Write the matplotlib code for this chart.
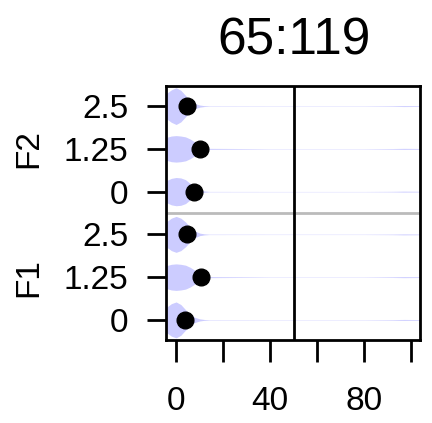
import numpy as np
import matplotlib
matplotlib.use("Agg")
from matplotlib import pyplot as plt
from matplotlib.transforms import blended_transform_factory

plt.rcParams['font.family'] = ['Liberation Sans', 'DejaVu Sans']

title = "65:119"
groups = ["F1", "F2"]
levels = ["0", "1.25", "2.5"]

# point estimates per row, bottom to top: F1 0, F1 1.25, F1 2.5, F2 0, F2 1.25, F2 2.5
points = [3.8, 10.5, 4.7, 7.5, 10.0, 4.7]

# violin outline (half width in row units)
dens_x = [-6, -4, -2, 0, 2, 4, 6, 8, 10, 12, 14, 40, 80, 92, 97, 102, 106]
dens_w = [
    [0.20, 0.30, 0.38, 0.42, 0.36, 0.24, 0.13, 0.06, 0.025, 0.010, 0.005, 0.004, 0.004, 0.007, 0.011, 0.009, 0.006],
    [0.22, 0.27, 0.30, 0.31, 0.30, 0.28, 0.23, 0.16, 0.09, 0.035, 0.012, 0.004, 0.004, 0.008, 0.012, 0.010, 0.006],
    [0.20, 0.30, 0.38, 0.42, 0.38, 0.29, 0.17, 0.08, 0.03, 0.012, 0.005, 0.004, 0.004, 0.007, 0.011, 0.009, 0.006],
    [0.20, 0.26, 0.31, 0.33, 0.32, 0.28, 0.19, 0.11, 0.045, 0.015, 0.005, 0.004, 0.004, 0.007, 0.011, 0.009, 0.006],
    [0.22, 0.27, 0.30, 0.31, 0.30, 0.28, 0.23, 0.16, 0.09, 0.035, 0.012, 0.004, 0.004, 0.008, 0.012, 0.010, 0.006],
    [0.20, 0.30, 0.38, 0.43, 0.37, 0.25, 0.13, 0.06, 0.025, 0.010, 0.005, 0.004, 0.004, 0.007, 0.011, 0.009, 0.006],
]
ref_line = 50

fig = plt.figure(figsize=(4.32, 4.23), dpi=100)
ax = fig.add_axes([166/432, 1 - 340/423, 254/432, 254/423])

rows = np.arange(len(points))
for r, w in zip(rows, dens_w):
    w = np.array(w)
    ax.fill_between(dens_x, r - w, r + w, color="#ccccff", lw=0, zorder=1)

ax.axhline(2.5, color="#bbbbbb", lw=2, zorder=2)
ax.axvline(ref_line, color="black", lw=2, zorder=3)
ax.plot(points, rows, "o", color="black", ms=12, zorder=4, clip_on=False)

ax.set_xlim(-4.3, 103.8)
ax.set_ylim(-0.47, 5.47)

ax.set_xticks([0, 20, 40, 60, 80, 100])
ax.set_xticklabels(["0", "", "40", "", "80", ""])
ax.set_yticks(rows)
ax.set_yticklabels(levels * 2)

for s in ax.spines.values():
    s.set_linewidth(2)
ax.tick_params(axis="x", length=16, width=2, pad=17, labelsize=24)
ax.tick_params(axis="y", length=14, width=2, pad=13, labelsize=24)

tr = blended_transform_factory(ax.transAxes, ax.transData)
ax.text(-0.54, 1, groups[0], transform=tr, rotation=90, ha="center", va="center", fontsize=24)
ax.text(-0.54, 4, groups[1], transform=tr, rotation=90, ha="center", va="center", fontsize=24)

fig.text(294/432, 1 - 41/423, title, ha="center", va="center", fontsize=37)

fig.savefig("out.png", dpi=100)
